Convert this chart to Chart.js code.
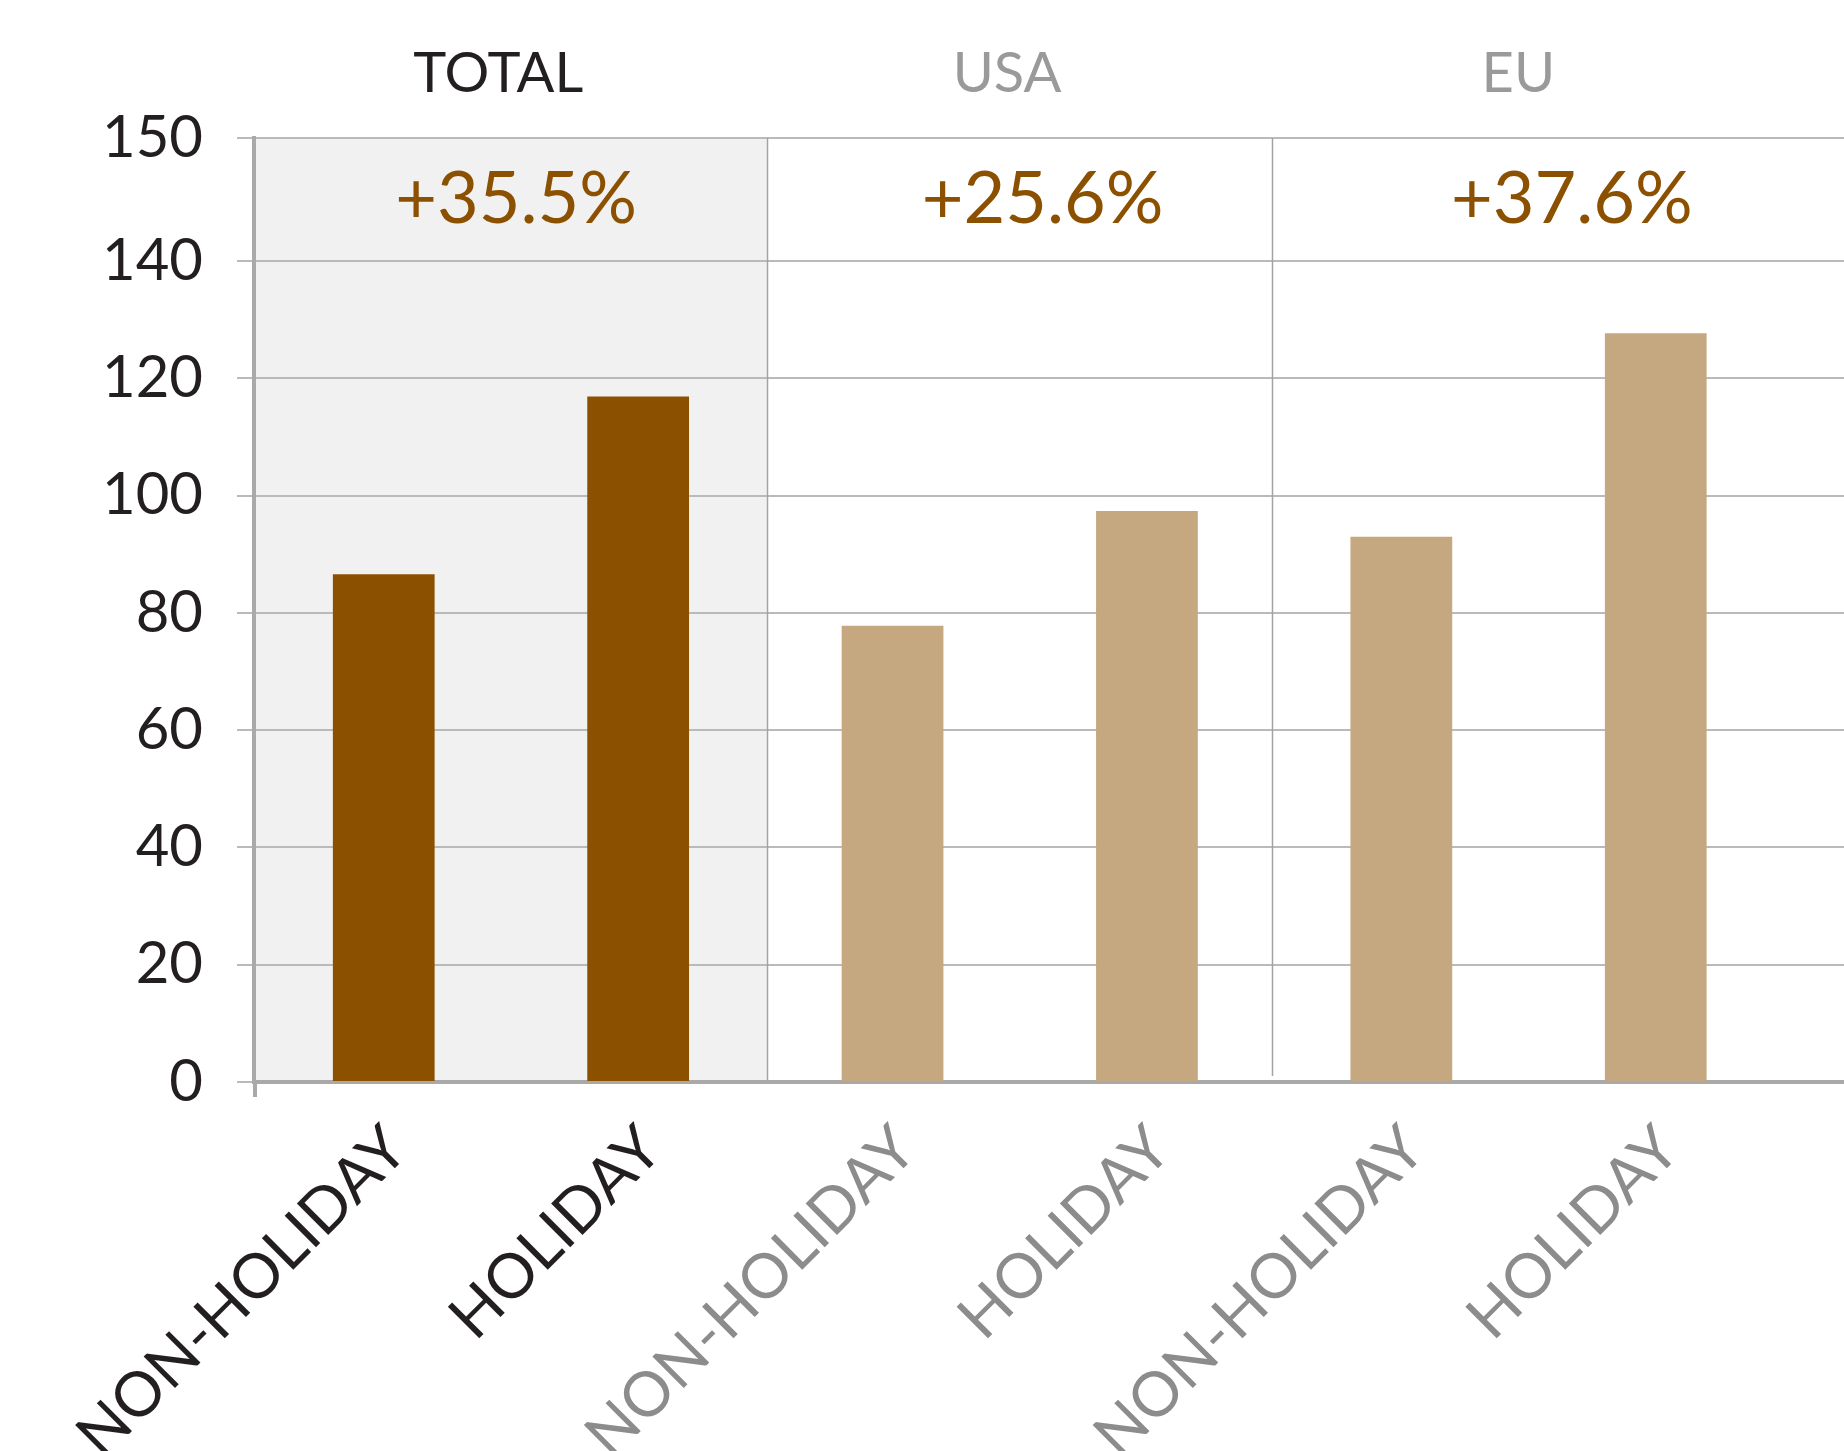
<!DOCTYPE html>
<html>
<head>
<meta charset="utf-8">
<script src="https://cdn.jsdelivr.net/npm/chart.js@4.4.1/dist/chart.umd.min.js"></script>
<style>
  html, body { margin: 0; padding: 0; background: #fff; overflow: hidden; }
  #chart { display: block; }
</style>
</head>
<body>
<canvas id="chart" width="1844" height="1451"></canvas>
<script>
// data
var categories = ['NON-HOLIDAY', 'HOLIDAY', 'NON-HOLIDAY', 'HOLIDAY', 'NON-HOLIDAY', 'HOLIDAY'];
var values = [86.6, 116.9, 77.8, 97.4, 93.0, 127.7];
var groups = ['TOTAL', 'USA', 'EU'];
var changes = ['+35.5%', '+25.6%', '+37.6%'];
var yTickLabels = ['0', '20', '40', '60', '80', '100', '120', '140', '150'];

var DARK = '#8c5100';
var LIGHT = '#c6a880';
var FONT = 'Lato, "Open Sans", sans-serif';

// fundo cinza, divisorias e textos das regioes
var groupsPlugin = {
  id: 'groups',
  beforeDraw: function (chart) {
    var ctx = chart.ctx, x = chart.scales.x, area = chart.chartArea;
    ctx.save();
    ctx.fillStyle = '#f1f1f1';
    ctx.fillRect(area.left, area.top, x.getPixelForValue(1.505) - area.left, area.bottom - area.top);
    ctx.restore();
  },
  beforeDatasetsDraw: function (chart) {
    var ctx = chart.ctx, x = chart.scales.x, area = chart.chartArea;
    ctx.save();
    ctx.strokeStyle = '#a3a3a3';
    ctx.lineWidth = 1.5;
    [1.505, 3.49].forEach(function (v, i) {
      var px = Math.round(x.getPixelForValue(v)) + 0.5;
      ctx.beginPath();
      ctx.moveTo(px, area.top);
      ctx.lineTo(px, area.bottom - (i === 0 ? 2 : 6));
      ctx.stroke();
    });
    // tick abaixo do eixo
    ctx.strokeStyle = '#a9a9a9';
    ctx.lineWidth = 4;
    ctx.beginPath();
    ctx.moveTo(area.left + 1, area.bottom);
    ctx.lineTo(area.left + 1, area.bottom + 15);
    ctx.stroke();
    ctx.restore();
  },
  afterDraw: function (chart) {
    var ctx = chart.ctx, x = chart.scales.x;
    var titlePos = [0.45, 2.45, 4.46];
    var pctPos = [0.52, 2.59, 4.67];
    ctx.save();
    ctx.textAlign = 'center';
    ctx.textBaseline = 'middle';
    ctx.font = '56px ' + FONT;
    groups.forEach(function (g, i) {
      ctx.fillStyle = i === 0 ? '#231f20' : '#9a9a9a';
      ctx.fillText(g, x.getPixelForValue(titlePos[i]), 74);
    });
    ctx.font = '72px ' + FONT;
    ctx.fillStyle = DARK;
    changes.forEach(function (c, i) {
      ctx.fillText(c, x.getPixelForValue(pctPos[i]), 200);
    });
    ctx.restore();
  }
};

var ctx = document.getElementById('chart').getContext('2d');
var chart = new Chart(ctx, {
  type: 'bar',
  data: {
    datasets: [{
      data: values.map(function (v, i) { return { x: i, y: v }; }),
      backgroundColor: values.map(function (v, i) { return i < 2 ? DARK : LIGHT; }),
      borderWidth: 0,
      barPercentage: 0.4,
      categoryPercentage: 1
    }]
  },
  options: {
    responsive: false,
    animation: false,
    layout: { padding: { top: 138, left: 0, right: 0, bottom: 0 } },
    plugins: { legend: { display: false }, tooltip: { enabled: false } },
    scales: {
      x: {
        type: 'linear',
        min: -0.51,
        max: 5.74,
        offset: false,
        grid: { display: false },
        border: { color: '#a9a9a9', width: 4 },
        afterBuildTicks: function (scale) {
          // rotulos ligeiramente a direita do centro da barra
          scale.ticks = categories.map(function (c, i) { return { value: i + 0.05 }; });
        },
        afterFit: function (scale) { scale.height = 369; },
        ticks: {
          autoSkip: false,
          minRotation: 45,
          maxRotation: 45,
          padding: 22,
          font: { family: FONT, size: 62 },
          color: function (c) { return c.index < 2 ? '#231f20' : '#8c8c8c'; },
          callback: function (v) { return categories[Math.round(v)]; }
        }
      },
      y: {
        min: 0,
        max: 161,
        afterFit: function (scale) { scale.width = 254; },
        grid: { color: '#bababa', lineWidth: 2, tickLength: 17 },
        border: { color: '#a9a9a9', width: 4 },
        afterBuildTicks: function (scale) {
          scale.ticks = yTickLabels.map(function (t, i) { return { value: i < 8 ? i * 20 : 161 }; });
        },
        ticks: {
          padding: 34,
          font: { family: FONT, size: 58 },
          color: '#231f20',
          callback: function (v, i) { return yTickLabels[i]; }
        }
      }
    }
  },
  plugins: [groupsPlugin]
});
</script>
</body>
</html>
